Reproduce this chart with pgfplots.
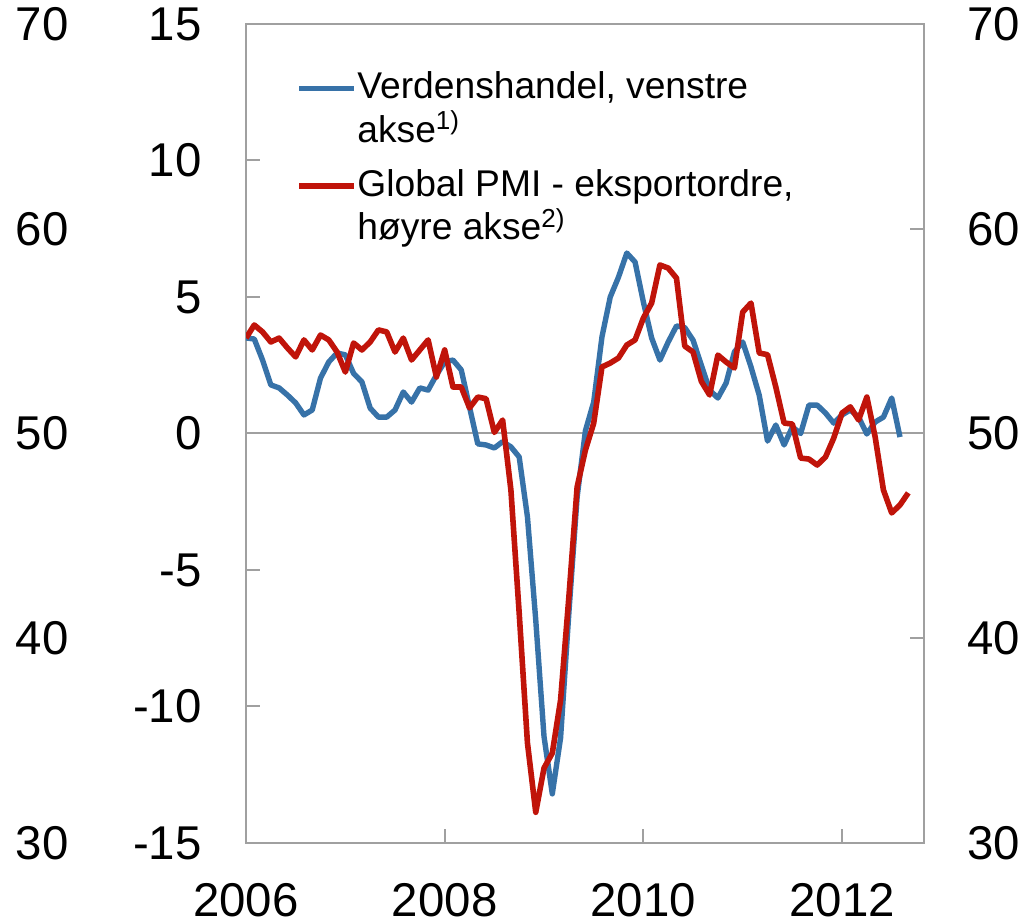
\documentclass[border=0pt]{standalone}
\usepackage{pgfplots}
\pgfplotsset{compat=1.18}
\usepackage{fontspec}
\setmainfont{Liberation Sans}
\definecolor{cblue}{RGB}{55,114,168}
\definecolor{cred}{RGB}{192,20,10}
\definecolor{cgray}{RGB}{160,160,160}
\pgfplotstableread{
m v
0 3.50
1 3.46
2 2.69
3 1.78
4 1.67
5 1.41
6 1.12
7 0.68
8 0.86
9 2.03
10 2.62
11 2.95
12 2.88
13 2.20
14 1.89
15 0.93
16 0.60
17 0.60
18 0.86
19 1.52
20 1.15
21 1.67
22 1.59
23 2.14
24 2.62
25 2.69
26 2.33
27 0.97
28 -0.38
29 -0.42
30 -0.53
31 -0.30
32 -0.49
33 -0.86
34 -3.06
35 -6.83
36 -11.1
37 -13.2
38 -11.15
39 -6.58
40 -2.33
41 0.10
42 1.15
43 3.54
44 5.00
45 5.73
46 6.61
47 6.28
48 4.82
49 3.50
50 2.69
51 3.35
52 3.94
53 3.88
54 3.42
55 2.51
56 1.59
57 1.30
58 1.85
59 2.99
60 3.35
61 2.44
62 1.40
63 -0.28
64 0.31
65 -0.42
66 0.24
67 0.00
68 1.04
69 1.04
70 0.75
71 0.38
72 0.68
73 0.86
74 0.60
75 -0.02
76 0.42
77 0.60
78 1.30
79 -0.13
}\blue
\pgfplotstableread{
m v
0 54.66
1 55.30
2 54.96
3 54.47
4 54.66
5 54.18
6 53.74
7 54.57
8 54.08
9 54.81
10 54.57
11 53.98
12 53.00
13 54.42
14 54.08
15 54.47
16 55.06
17 54.96
18 53.98
19 54.66
20 53.59
21 54.08
22 54.57
23 52.76
24 54.08
25 52.27
26 52.27
27 51.25
28 51.78
29 51.70
30 50.05
31 50.66
32 47.24
33 41.23
34 34.88
35 31.50
36 33.66
37 34.39
38 36.98
39 42.00
40 47.39
41 49.19
42 50.50
43 53.25
44 53.44
45 53.69
46 54.32
47 54.57
48 55.64
49 56.37
50 58.23
51 58.08
52 57.59
53 54.27
54 53.98
55 52.55
56 51.88
57 53.83
58 53.49
59 53.20
60 55.93
61 56.37
62 53.93
63 53.85
64 52.27
65 50.51
66 50.46
67 48.80
68 48.75
69 48.46
70 48.85
71 49.78
72 51.00
73 51.30
74 50.66
75 51.78
76 49.83
77 47.24
78 46.12
79 46.51
80 47.10
}\red
\pgfplotsset{
  base/.style={scale only axis, width=339bp, height=409.5bp, at={(0,0)}, anchor=south west,
    xmin=0, xmax=81.9,
    /pgf/number format/assume math mode=true,
    tick label style={font=\fontsize{23.7bp}{28bp}\selectfont},
    tick align=inside, major tick length=7bp,
    every tick/.style={cgray, line width=1bp},
    axis line style={cgray, line width=1bp},
    major grid style={cgray, line width=1bp},
  }
}
\begin{document}
\begin{tikzpicture}
\path[use as bounding box] (-123bp,-40.5bp) rectangle (391.5bp,421.5bp);
% far-left duplicate of right-axis scale
\begin{axis}[base, hide x axis, axis y line*=left, y axis line style={draw=none},
  ymin=30, ymax=70, ytick={30,40,...,70}, ytick style={draw=none}, major tick length=0pt,
  yticklabel style={anchor=east, inner sep=0pt, xshift=-88.5bp}]
\end{axis}
% left axis: Verdenshandel
\begin{axis}[base, ymin=-15, ymax=15, ytick={-15,-10,...,15},
  xtick={0,24,48,72}, xticklabels={2006,2008,2010,2012},
  ytick pos=left, xtick pos=left,
  yticklabel style={anchor=east, inner sep=0pt, xshift=-22bp},
  xticklabel style={anchor=north, inner sep=0pt, yshift=-20bp},
  extra y ticks={0}, extra y tick labels={}, extra y tick style={grid=major}]
\addplot[cblue, line width=2.7bp, line join=round] table[x=m, y=v] {\blue};
\end{axis}
% right axis: Global PMI
\begin{axis}[base, hide x axis, axis y line*=right,
  ymin=30, ymax=70, ytick={30,40,...,70},
  yticklabel style={anchor=west, inner sep=0pt, xshift=21.5bp},
  legend style={draw=none, fill=none, inner sep=0pt,
    at={(axis description cs:0.0767,0.947)}, anchor=north west,
    font=\fontsize{18.6bp}{21.8bp}\selectfont, row sep=8bp,
    cells={align=left}},
  legend cell align=left,
  legend image code/.code={\draw[#1, overlay] (0.5bp,10bp) -- (28bp,10bp);
    \path[draw=none] (0bp,0bp) -- (27.5bp,0bp);}]
\addlegendimage{cblue, line width=2.7bp}
\addlegendentry{Verdenshandel, venstre\\akse\textsuperscript{1)}}
\addplot[cred, line width=2.8bp, line join=round] table[x=m, y=v] {\red};
\addlegendentry{Global PMI - eksportordre,\\høyre akse\textsuperscript{2)}}
\end{axis}
\end{tikzpicture}
\end{document}
